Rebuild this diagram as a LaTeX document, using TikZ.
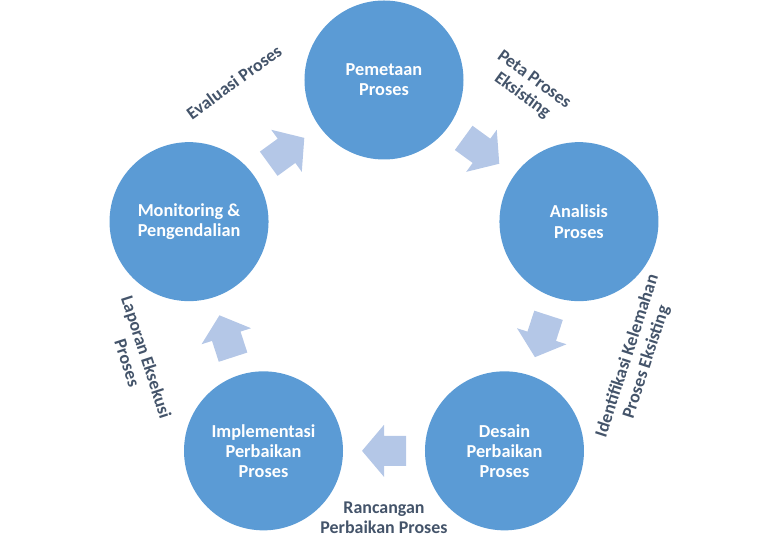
\documentclass[tikz,border=0pt]{standalone}
\usepackage{fontspec}
\setmainfont{Carlito}
\usepackage{tikz}
\usetikzlibrary{calc}

\definecolor{stageblue}{HTML}{5B9BD5}
\definecolor{flowblue}{HTML}{B4C7E7}
\definecolor{notegray}{HTML}{44546A}

\tikzset{
    stage/.style = {circle, fill=stageblue, minimum size=3.18cm, inner sep=0pt, text=white, align=center, font=\bfseries\fontsize{10.4}{11.4}\selectfont},
    note/.style = {text=notegray, align=center, font=\bfseries\fontsize{10.2}{11.4}\selectfont},
    flowarrow/.pic = {
        \fill[flowblue] (-0.44, -0.3) -- (0, -0.3) -- (0, -0.52) -- (0.44, 0) -- (0, 0.52) -- (0, 0.3) -- (-0.44, 0.3) -- cycle;
    }
}

\begin{document}
\begin{tikzpicture}
        \useasboundingbox (-7.68, -5.34) rectangle (7.68, 5.70);

        % the five stages
        \node[stage] (pem) at (90:4.1) {Pemetaan\\Proses};
        \node[stage] (ana) at (18:4.1) {Analisis\\Proses};
        \node[stage] (des) at (-54:4.1) {Desain\\Perbaikan\\Proses};
        \node[stage] (imp) at (-126:4.1) {Implementasi\\Perbaikan\\Proses};
        \node[stage] (mon) at (162:4.1) {Monitoring \&\\Pengendalian};

        % arrows between the stages
        \pic[rotate = 36] at ($(mon)!0.5!(pem)$) {flowarrow};
        \pic[rotate = -36] at ($(pem)!0.5!(ana)$) {flowarrow};
        \pic[rotate = -108] at ($(ana)!0.5!(des)$) {flowarrow};
        \pic[rotate = 180] at ($(des)!0.5!(imp)$) {flowarrow};
        \pic[rotate = 108] at ($(imp)!0.5!(mon)$) {flowarrow};

        % outputs
        \node[note, rotate = 36] (eval) at (-3.0, 4.06) {Evaluasi Proses};
        \node[note, rotate = -36] (peta) at (2.88, 3.94) {Peta Proses\\Eksisting};
        \node[note, rotate = 72] (ident) at (5.06, -1.48) {Identifikasi Kelemahan\\Proses Eksisting};
        \node[note] (ranc) at (0, -4.66) {Rancangan\\Perbaikan Proses};
        \node[note, rotate = -72] (lap) at (-4.94, -1.5) {Laporan Eksekusi\\Proses};
    \end{tikzpicture}
\end{document}
